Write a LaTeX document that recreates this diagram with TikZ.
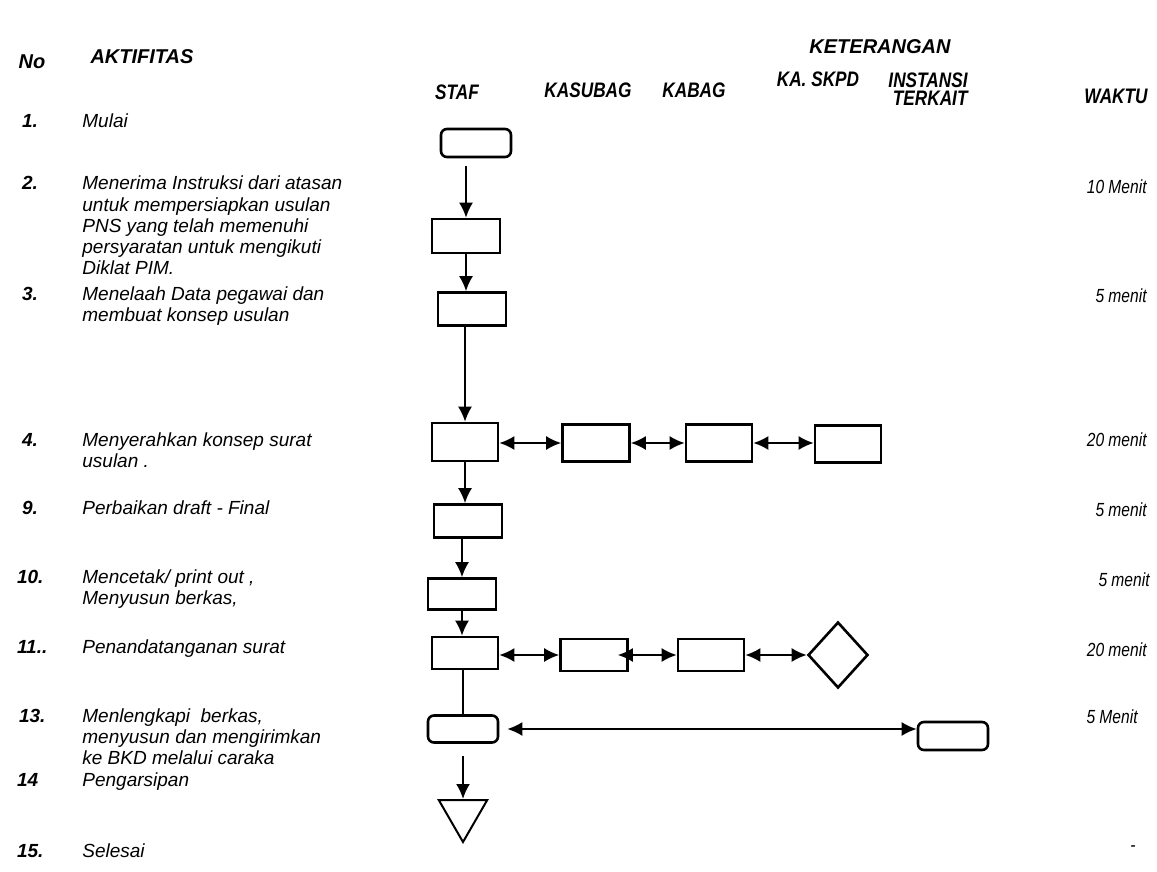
\documentclass[tikz,border=0pt]{standalone}
\usepackage{fontspec}
\setmainfont{Liberation Sans}
\newfontfamily\narrowfont[FakeStretch=0.82]{Liberation Sans}
\usetikzlibrary{arrows.meta,shapes.geometric}
\newcommand{\baris}[1]{\begin{tabular}[t]{@{}l@{}}#1\end{tabular}}

\tikzset{
  judul/.style={font=\fontsize{10}{11}\selectfont\bfseries\itshape},
  kolom/.style={font=\fontsize{10.5}{11}\selectfont\narrowfont\bfseries\itshape,align=left},
  nomor/.style={anchor=base west,font=\fontsize{9.5}{11}\selectfont\bfseries\itshape},
  aktif/.style={anchor=base west,inner sep=0pt,font=\fontsize{9.5}{10.6}\selectfont\itshape},
  waktu/.style={anchor=base east,inner sep=0pt,font=\fontsize{9.5}{11}\selectfont\narrowfont\itshape},
  kotak/.style={draw,line width=1.3pt,inner sep=0pt},
  mulaibox/.style={kotak,rounded corners=3pt},
  panah/.style={-{Latex[length=7.5pt,width=7pt]},line width=1pt},
  duapanah/.style={{Latex[length=7.5pt,width=7pt]}-{Latex[length=7.5pt,width=7pt]},line width=1pt}
}

\begin{document}
\begin{tikzpicture}[x=0.5pt,y=-0.5pt]
\useasboundingbox (0,0) rectangle (1157,872);

% judul kolom
\node[judul] (hno) at (32,62) {No};
\node[judul] (hakt) at (142,57) {AKTIFITAS};
\node[judul] (hket) at (880,47) {KETERANGAN};
\node[kolom] (hstaf) at (457,92) {STAF};
\node[kolom] (hksb) at (588,90) {KASUBAG};
\node[kolom] (hkbg) at (694,90) {KABAG};
\node[kolom] (hskpd) at (818,79) {KA. SKPD};
\node[kolom,align=right] (hins) at (928,89) {INSTANSI\\[-2pt]TERKAIT};
\node[kolom] (hwkt) at (1116,96) {WAKTU};

% aktifitas
\node[nomor] (n1) at (15,128) {1.};
\node[aktif] (a1) at (82,128) {Mulai};
\node[nomor] (n2) at (15,190) {2.};
\node[aktif] (a2) at (82,190) {\baris{Menerima Instruksi dari atasan\\untuk mempersiapkan usulan\\PNS yang telah memenuhi\\persyaratan untuk mengikuti\\Diklat PIM.}};
\node[nomor] (n3) at (15,300) {3.};
\node[aktif] (a3) at (82,300) {\baris{Menelaah Data pegawai dan\\membuat konsep usulan}};
\node[nomor] (n4) at (15,446) {4.};
\node[aktif] (a4) at (82,446) {\baris{Menyerahkan konsep surat\\usulan .}};
\node[nomor] (n9) at (15,514) {9.};
\node[aktif] (a9) at (82,514) {Perbaikan draft - Final};
\node[nomor] (n10) at (10,583) {10.};
\node[aktif] (a10) at (82,583) {\baris{Mencetak/ print out ,\\Menyusun berkas,}};
\node[nomor] (n11) at (10,653) {11..};
\node[aktif] (a11) at (82,653) {Penandatanganan surat};
\node[nomor] (n13) at (12,722) {13.};
\node[aktif] (a13) at (82,722) {\baris{Menlengkapi~ berkas,\\menyusun dan mengirimkan\\ke BKD melalui caraka}};
\node[nomor] (n14) at (10,786) {14};
\node[aktif] (a14) at (82,786) {Pengarsipan};
\node[nomor] (n15) at (10,857) {15.};
\node[aktif] (a15) at (82,857) {Selesai};

% waktu
\node[waktu] (w2) at (1147,193) {10 Menit};
\node[waktu] (w3) at (1147,302) {5 menit};
\node[waktu] (w4) at (1147,446) {20 menit};
\node[waktu] (w9) at (1147,516) {5 menit};
\node[waktu] (w10) at (1150,586) {5 menit};
\node[waktu] (w11) at (1147,656) {20 menit};
\node[waktu] (w13) at (1138,723) {5 Menit};
\node[waktu] (w15) at (1136,851) {-};

% bagan alir
\node[mulaibox,minimum width=35pt,minimum height=14pt] (mulai) at (476,143) {};
\node[kotak,minimum width=34pt,minimum height=17pt] (b2) at (466,236) {};
\node[kotak,minimum width=34pt,minimum height=16.5pt] (b3) at (472,309) {};
\node[kotak,minimum width=33pt,minimum height=19pt] (b4) at (465,442) {};
\node[kotak,minimum width=33.5pt,minimum height=18.5pt] (k4) at (596,443) {};
\node[kotak,minimum width=33pt,minimum height=18.5pt] (kb4) at (719,443) {};
\node[kotak,minimum width=33pt,minimum height=18.5pt] (s4) at (848,444) {};
\node[kotak,minimum width=34pt,minimum height=16.5pt] (b9) at (468,521) {};
\node[kotak,minimum width=34pt,minimum height=15.5pt] (b10) at (462,594) {};
\node[kotak,minimum width=33pt,minimum height=16pt] (b11) at (465,653) {};
\node[kotak,minimum width=33.5pt,minimum height=16pt] (k11) at (594,655) {};
\node[kotak,minimum width=33pt,minimum height=16pt] (kb11) at (711,655) {};
\node[kotak,diamond,minimum width=30pt,minimum height=33pt] (d11) at (838,655) {};
\node[mulaibox,minimum width=35pt,minimum height=13.5pt] (b13) at (463,729) {};
\node[mulaibox,minimum width=35pt,minimum height=14pt] (i13) at (953,736) {};
\node[kotak,line width=1pt,regular polygon,regular polygon sides=3,shape border rotate=180,minimum size=28pt] (arsip) at (463,814) {};

% panah
\draw[panah,shorten <=4pt] (mulai.south -| b2.north) -- (b2.north);
\draw[panah] (b2.south) -- (b2.south |- b3.north);
\draw[panah] (b3.south -| b4.north) -- (b4.north);
\draw[duapanah] (k4.west -| b4.east) -- (k4.west);
\draw[duapanah] (k4.east) -- (kb4.west);
\draw[duapanah] (kb4.east) -- (kb4.east -| s4.west);
\draw[panah] (b4.south) -- (b4.south |- b9.north);
\draw[panah] (b9.south -| b10.north) -- (b10.north);
\draw[panah] (b10.south) -- (b10.south |- b11.north);
\draw[duapanah] (k11.west -| b11.east) -- (k11.west);
\draw[duapanah] ([xshift=-5.5pt]k11.east) -- (kb11.west);
\draw[duapanah] (kb11.east) -- (d11.west);
\draw[line width=1pt] (b11.south -| b13.north) -- (b13.north);
\draw[duapanah] ([xshift=4pt]b13.east) -- (b13.east -| i13.west);
\draw[panah,shorten <=6pt] (b13.south) -- (arsip.north);
\end{tikzpicture}
\end{document}
